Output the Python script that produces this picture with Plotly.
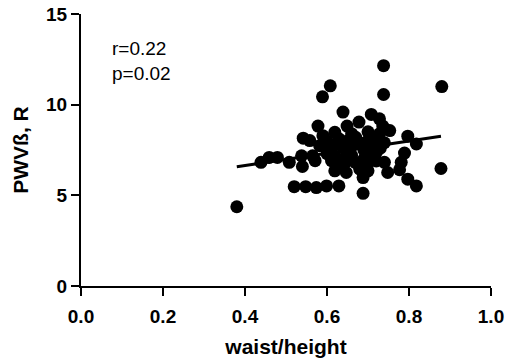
import plotly.graph_objects as go

# waist/height ratio vs PWV beta
waist_height = [
    0.738, 0.608, 0.589, 0.738, 0.639, 0.708, 0.728, 0.678, 0.649, 0.578,
    0.736, 0.797, 0.542, 0.558, 0.439, 0.459, 0.479, 0.508, 0.538, 0.540,
    0.520, 0.548, 0.574, 0.380, 0.565, 0.789, 0.599, 0.629, 0.688, 0.619,
    0.647, 0.680, 0.700, 0.688, 0.740, 0.748, 0.777, 0.797, 0.818, 0.611,
    0.651, 0.692, 0.720, 0.582, 0.818, 0.878, 0.880, 0.590, 0.619, 0.728,
    0.753, 0.781, 0.639, 0.571,
    0.600, 0.620, 0.630, 0.640, 0.650, 0.660, 0.670, 0.680, 0.690, 0.700,
    0.710, 0.720, 0.600, 0.620, 0.640, 0.660, 0.670, 0.690, 0.710, 0.730,
    0.740, 0.630, 0.650, 0.680, 0.700, 0.720, 0.610, 0.660, 0.700, 0.730,
]
pwv_beta = [
    12.15, 11.04, 10.43, 10.56, 9.59, 9.46, 9.22, 9.04, 8.82, 8.82,
    8.82, 8.26, 8.15, 8.02, 6.82, 7.09, 7.09, 6.82, 7.18, 6.59,
    5.48, 5.48, 5.43, 4.37, 7.18, 7.33, 5.52, 5.52, 5.11, 6.35,
    6.26, 6.44, 6.35, 5.98, 6.82, 6.26, 6.41, 5.89, 5.52, 6.91,
    7.46, 7.46, 7.37, 7.74, 7.83, 6.48, 11.00, 8.29, 8.48, 8.39,
    8.57, 6.82, 6.63, 6.91,
    8.00, 7.80, 8.10, 7.60, 8.00, 7.70, 8.20, 7.90, 7.50, 8.00,
    7.70, 8.10, 7.30, 7.10, 7.00, 7.20, 6.80, 7.00, 7.20, 7.60,
    7.90, 6.70, 6.90, 6.60, 6.80, 6.90, 7.60, 8.40, 8.50, 8.00,
]

# regression line end points
fit_x = [0.38, 0.878]
fit_y = [6.58, 8.26]

x_ticks = [0.0, 0.2, 0.4, 0.6, 0.8, 1.0]
x_tick_labels = ["0.0", "0.2", "0.4", "0.6", "0.8", "1.0"]
y_ticks = [0, 5, 10, 15]
y_tick_labels = ["0", "5", "10", "15"]

FONT = "Arial, Liberation Sans, Helvetica, sans-serif"

fig = go.Figure()
fig.add_trace(go.Scatter(
    x=waist_height, y=pwv_beta, mode="markers",
    marker=dict(color="black", size=13, line=dict(width=0)),
    showlegend=False, cliponaxis=False,
))
fig.add_trace(go.Scatter(
    x=fit_x, y=fit_y, mode="lines",
    line=dict(color="black", width=3),
    showlegend=False,
))

axis_common = dict(
    showline=True, linecolor="black", linewidth=2,
    ticks="outside", ticklen=8, tickwidth=2, tickcolor="black",
    showgrid=False, zeroline=False, automargin=False,
    tickfont=dict(family=FONT, size=19, color="black", weight="bold"),
)

fig.update_layout(
    width=506, height=362,
    margin=dict(l=81, r=15, t=14, b=76),
    plot_bgcolor="white", paper_bgcolor="white",
    xaxis=dict(
        range=[0, 1], tickvals=x_ticks, ticktext=x_tick_labels,
        ticklabelstandoff=4,
        title=dict(text="<b>waist/height</b>", font=dict(family=FONT, size=21, color="black"), standoff=14),
        **axis_common,
    ),
    yaxis=dict(
        range=[0, 15], tickvals=y_ticks, ticktext=y_tick_labels,
        title=dict(text="<b>PWVß, R</b>", font=dict(family=FONT, size=21, color="black"), standoff=12),
        **axis_common,
    ),
    annotations=[
        dict(x=110, y=48, xref="paper", yref="paper", text="r=0.22", showarrow=False,
             xanchor="left", yanchor="middle", font=dict(family=FONT, size=19, color="black")),
        dict(x=110, y=73, xref="paper", yref="paper", text="p=0.02", showarrow=False,
             xanchor="left", yanchor="middle", font=dict(family=FONT, size=19, color="black")),
    ],
)

# convert pixel annotation positions to paper fractions
pl, pr, pt, pb = 81, 15, 14, 76
pw, ph = 506 - pl - pr, 362 - pt - pb
for a in fig.layout.annotations:
    a.x = (a.x - pl) / pw
    a.y = 1 - (a.y - pt) / ph

fig.write_html("out.html")
